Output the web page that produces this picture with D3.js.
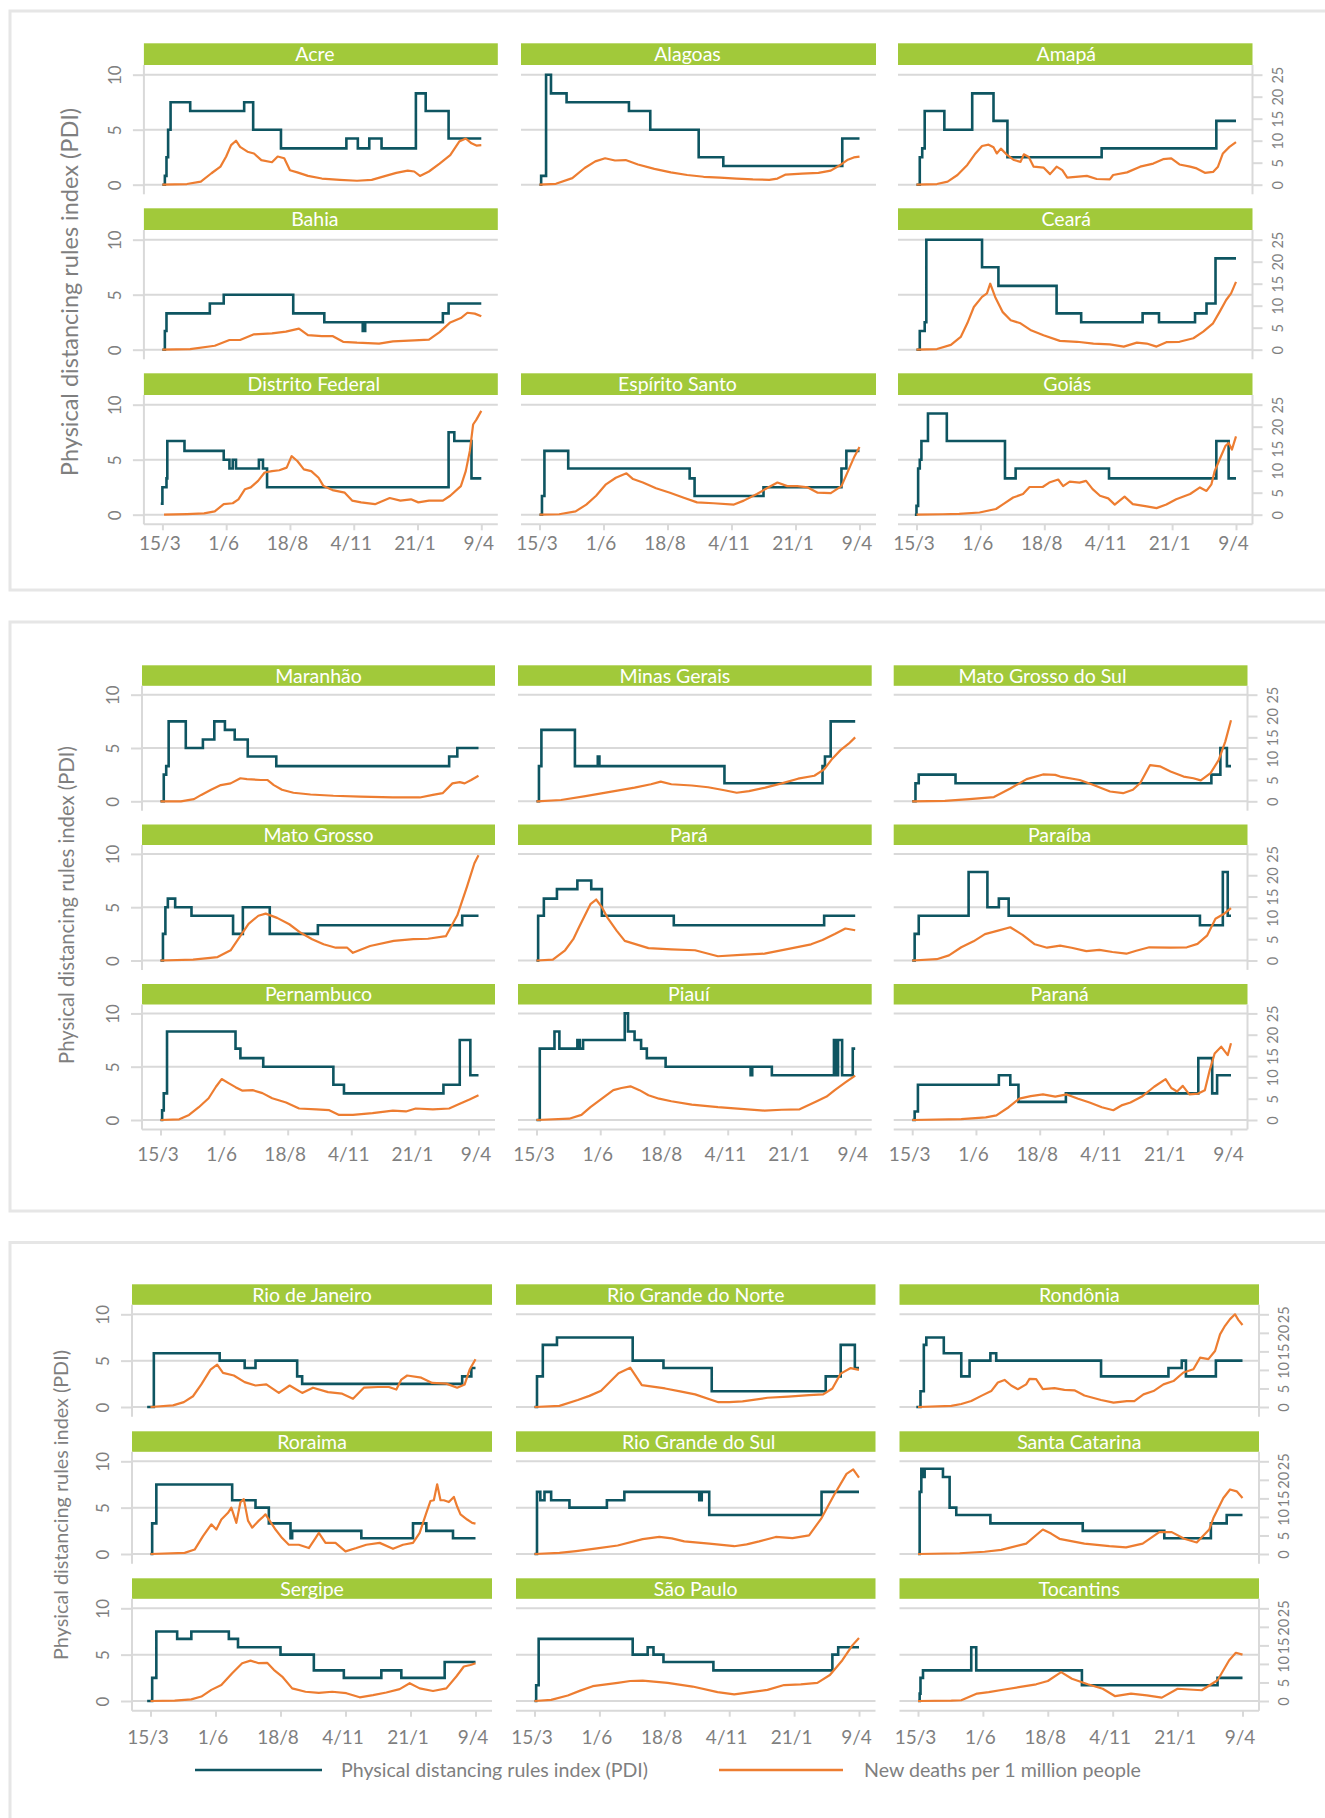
<!DOCTYPE html>
<html><head><meta charset="utf-8">
<script src="https://cdn.jsdelivr.net/npm/d3@7"></script>
<style>body{margin:0;background:#fff}svg{display:block}text{font-family:Lato,"Open Sans",sans-serif}</style>
</head><body>
<svg id="c" width="1325" height="1818"></svg>
<script>
// ---- data: day offsets from 15/3/2020; PDI (left axis 0-10), deaths per million (right axis 0-25)
const tickDays = [0, 78, 156, 234, 312, 390];
const tickLabels = ["15/3", "1/6", "18/8", "4/11", "21/1", "9/4"];
const leftTicks = [0, 5, 10];
const rightTicks = [0, 5, 10, 15, 20, 25];
const legendLabels = ["Physical distancing rules index (PDI)", "New deaths per 1 million people"];
const yTitle = "Physical distancing rules index (PDI)";

const panel1States = ["Acre", "Alagoas", "Amapá", "Bahia", null, "Ceará", "Distrito Federal", "Espírito Santo", "Goiás"];
const panel2States = ["Maranhão", "Minas Gerais", "Mato Grosso do Sul", "Mato Grosso", "Pará", "Paraíba", "Pernambuco", "Piauí", "Paraná"];
const panel3States = ["Rio de Janeiro", "Rio Grande do Norte", "Rondônia", "Roraima", "Rio Grande do Sul", "Santa Catarina", "Sergipe", "São Paulo", "Tocantins"];

const pdiAcre = [[0,0],[3,0.8],[5,2.5],[7,5],[10,7.5],[34,6.7],[100,7.5],[111,5],[145,3.3],[225,4.2],[239,3.3],[253,4.2],[268,3.3],[310,8.3],[322,6.7],[350,4.2],[390,4.2]];
const deathsAcre = [[0,0],[30,0.15],[47,0.7],[60,2.6],[71,4.1],[78,6.4],[84,9],[90,10],[95,8.6],[104,7.5],[112,7.1],[121,5.6],[134,5.1],[141,6.4],[149,6],[156,3.3],[165,2.8],[178,2],[195,1.4],[217,1.1],[238,0.9],[256,1.1],[273,2],[286,2.7],[300,3.2],[308,3],[315,2],[326,3],[339,4.8],[352,6.7],[363,9.8],[371,10.5],[378,9.4],[384,8.9],[390,9]];
const pdiAlagoas = [[0,0],[2,0.8],[8,10],[14,8.3],[33,7.5],[109,6.7],[135,5],[194,2.5],[224,1.7],[369,4.2],[390,4.2]];
const deathsAlagoas = [[0,0],[20,0.2],[40,1.5],[55,3.8],[68,5.3],[80,6],[92,5.5],[105,5.6],[120,4.6],[140,3.6],[160,2.8],[180,2.2],[200,1.8],[220,1.6],[240,1.4],[260,1.2],[280,1.1],[290,1.4],[300,2.3],[320,2.5],[340,2.7],[355,3.2],[365,4.3],[375,5.6],[383,6.2],[390,6.4]];
const pdiAmapa = [[0,0],[4,2.5],[7,3.3],[10,6.7],[34,5],[68,8.3],[94,5.8],[111,2.5],[226,3.3],[366,5.8],[390,5.8]];
const deathsAmapa = [[0,0],[25,0.15],[38,0.7],[50,2.2],[62,4.5],[72,7.1],[80,8.8],[88,9.1],[94,8.5],[98,7.1],[103,8.2],[111,6.7],[119,5.6],[127,5.2],[131,6.9],[137,6.3],[143,4.1],[155,3.9],[163,2.4],[171,4.1],[178,3.3],[184,1.6],[208,2],[220,1.3],[236,1.2],[240,2.2],[257,2.8],[273,4.1],[289,4.8],[301,5.8],[311,6],[321,4.6],[334,4.1],[342,3.7],[352,2.7],[362,2.9],[368,4.1],[374,7.1],[382,8.6],[390,9.7]];
const pdiBahia = [[0,0],[3,1.7],[5,3.3],[58,4.2],[75,5],[160,3.3],[198,2.5],[245,1.7],[248,2.5],[343,3.3],[350,4.2],[390,4.2]];
const deathsBahia = [[0,0],[34,0.15],[64,0.9],[82,2.2],[95,2.2],[112,3.5],[134,3.7],[151,4.1],[167,4.8],[178,3.3],[195,3.1],[208,3.1],[221,1.8],[238,1.6],[265,1.4],[282,1.9],[308,2.1],[326,2.3],[339,4],[352,6.2],[365,7.2],[373,8.4],[382,8.2],[390,7.6]];
const pdiCeara = [[0,0],[4,1.7],[10,2.5],[12,10],[80,7.5],[100,5.8],[171,3.3],[201,2.5],[276,3.3],[296,2.5],[340,3.3],[354,4.2],[365,8.3],[390,8.3]];
const deathsCeara = [[0,0],[25,0.15],[42,1.1],[54,2.9],[62,6],[70,9.7],[80,12],[86,12.8],[90,15],[96,12],[105,8.6],[115,6.7],[127,6],[139,4.5],[155,3.3],[175,2],[196,1.8],[216,1.4],[236,1.2],[253,0.7],[269,1.6],[281,1.4],[293,0.7],[305,1.7],[321,1.8],[338,2.6],[350,4.1],[362,6],[370,8.6],[378,11.3],[384,12.8],[390,15.4]];
const pdiDF = [[-2,1],[0,2.5],[5,3.3],[6,6.7],[27,5.8],[75,5],[82,4.2],[86,5],[90,4.2],[118,5],[123,4.2],[128,2.5],[350,7.5],[357,6.7],[378,3.3],[390,3.3]];
const deathsDF = [[2,0],[30,0.15],[51,0.3],[64,0.75],[75,2.4],[86,2.6],[93,3.5],[101,5.8],[108,6.2],[117,7.7],[125,9.6],[134,9.9],[143,10.1],[152,10.7],[158,13.3],[165,12.2],[173,10.3],[182,9.9],[191,8.4],[197,6.5],[208,5.6],[223,5],[232,3.2],[243,2.8],[260,2.4],[278,3.8],[291,3.2],[304,3.5],[313,2.8],[326,3.2],[343,3.2],[352,4.3],[365,6.5],[371,9.9],[376,14.5],[380,20.5],[384,21.6],[390,23.6]];
const pdiES = [[0,0],[3,1.7],[6,5.8],[35,4.2],[183,3.3],[189,1.7],[273,2.5],[368,4.2],[374,5.8],[390,5.8]];
const deathsES = [[0,0],[24,0.1],[44,0.75],[57,2.3],[69,4.3],[81,6.9],[93,8.4],[106,9.4],[114,8.1],[126,7.3],[142,6],[159,5],[175,3.9],[192,2.8],[212,2.6],[237,2.3],[249,3.2],[265,4.7],[277,6],[290,7.3],[302,6.5],[314,6.5],[327,6.2],[339,5],[355,4.9],[368,6.5],[376,9.9],[384,13.3],[390,15.4]];
const pdiGoias = [[-2,0],[0,0.8],[2,4.2],[4,5],[6,6.7],[14,9.2],[37,6.7],[108,3.3],[121,4.2],[235,3.3],[366,6.7],[381,3.3],[390,3.3]];
const deathsGoias = [[0,0],[32,0.1],[52,0.2],[77,0.5],[97,1.3],[105,2.3],[118,3.9],[130,4.7],[138,6.3],[154,6.3],[162,7.3],[173,8],[179,6.5],[187,7.5],[199,7.3],[207,7.7],[215,5.8],[224,4.3],[234,3.7],[242,2.3],[254,4.1],[264,2.4],[281,1.9],[293,1.5],[305,2.3],[317,3.5],[334,4.7],[346,6.2],[354,5.4],[360,6.9],[364,9.9],[371,13],[377,15.6],[381,16.3],[385,14.8],[390,17.8]];

const pdiMaranhao = [[0,0],[4,2.5],[7,3.3],[10,7.5],[31,5],[52,5.8],[66,7.5],[79,6.7],[91,5.8],[107,4.2],[142,3.3],[354,4.2],[364,5],[390,5]];
const deathsMaranhao = [[0,0],[25,0],[41,0.5],[50,1.5],[62,2.7],[74,3.8],[86,4.2],[98,5.4],[106,5.2],[123,5],[131,5],[139,3.8],[149,2.7],[163,2],[184,1.6],[212,1.3],[245,1.1],[285,0.9],[318,0.9],[334,1.5],[346,1.9],[358,4.2],[367,4.5],[373,4.2],[381,5],[390,6]];
const pdiMG = [[0,0],[3,3.3],[6,6.7],[47,3.3],[75,4.2],[77,3.3],[230,1.7],[350,3.3],[353,4.2],[360,7.5],[390,7.5]];
const deathsMG = [[0,0],[30,0.3],[60,1.2],[90,2.2],[120,3.2],[140,4],[152,4.6],[165,4],[190,3.7],[210,3.3],[230,2.6],[245,2],[260,2.4],[280,3.2],[300,4.2],[320,5.3],[340,6],[352,7.5],[362,10],[372,12],[382,13.5],[390,15]];
const pdiMGS = [[0,0],[4,1.7],[8,2.5],[53,1.7],[366,2.5],[377,5],[385,3.3],[390,3.3]];
const deathsMGS = [[0,0],[40,0.1],[70,0.5],[100,1],[120,3],[140,5.2],[160,6.3],[175,6.2],[181,5.8],[205,5],[221,3.9],[242,2.3],[258,1.9],[270,2.7],[279,4.3],[291,8.5],[303,8.2],[316,7],[332,5.8],[344,5.4],[353,4.9],[365,6.6],[375,9.7],[383,14],[390,19]];
const pdiMT = [[0,0],[3,2.5],[6,5],[9,5.8],[18,5],[38,4.2],[89,2.5],[101,5],[134,2.5],[193,3.3],[370,4.2],[390,4.2]];
const deathsMT = [[0,0],[40,0.2],[70,0.8],[86,2.4],[97,5.5],[108,8.6],[120,10.5],[129,11],[143,10],[158,8.5],[172,6.5],[186,5],[200,3.8],[215,3],[229,3],[236,1.8],[257,3.4],[286,4.6],[310,5],[328,5.1],[350,5.7],[364,10.6],[376,17.4],[385,22.8],[390,24.7]];
const pdiPara = [[0,0],[2,4.2],[9,5.8],[25,6.7],[50,7.5],[67,6.7],[80,4.2],[168,3.3],[352,4.2],[390,4.2]];
const deathsPara = [[0,0],[20,0.2],[35,2.4],[45,5],[52,7.8],[66,13.2],[73,14.3],[80,12.5],[87,10],[98,7],[108,4.6],[137,2.9],[165,2.6],[194,2.4],[222,1],[250,1.3],[279,1.6],[310,2.8],[336,3.8],[350,4.8],[365,6.2],[378,7.5],[390,7.1]];
const pdiParaiba = [[0,0],[3,2.5],[8,4.2],[69,8.3],[92,5],[106,5.8],[118,4.2],[352,3.3],[380,8.3],[386,4.2],[390,4.2]];
const deathsParaiba = [[0,0],[30,0.3],[45,1.2],[60,3.1],[75,4.5],[89,6.2],[105,7],[120,7.8],[135,6],[150,3.8],[165,3],[181,3.5],[195,3],[213,2.2],[229,2.5],[245,2],[262,1.6],[274,2.3],[290,3.1],[316,3],[336,3.1],[349,3.9],[361,5.9],[371,9.8],[381,10.9],[390,12.3]];
const pdiPE = [[0,0],[2,0.9],[4,2.5],[8,8.3],[92,6.7],[98,5.8],[126,5],[212,3.3],[225,2.5],[347,3.3],[367,7.5],[380,4.2],[390,4.2]];
const deathsPE = [[0,0],[23,0.15],[35,1.2],[47,3],[59,5.1],[68,7.8],[75,9.6],[84,8.6],[92,7.7],[100,6.9],[113,7],[125,6.3],[137,5.1],[154,4.1],[170,2.7],[191,2.5],[207,2.3],[219,1.2],[236,1.2],[260,1.6],[285,2.2],[301,2],[313,2.7],[334,2.5],[354,2.7],[367,3.8],[379,4.8],[390,5.8]];
const pdiPiaui = [[0,0],[4,6.7],[22,8.3],[28,6.7],[50,7.5],[53,6.7],[57,7.5],[108,10],[112,8.3],[120,7.5],[128,6.7],[135,5.8],[158,5],[262,4.2],[264,5],[288,4.2],[364,7.5],[366,4.2],[369,7.5],[374,4.2],[387,6.7],[390,6.7]];
const deathsPiaui = [[0,0],[40,0.3],[55,1.2],[66,3],[80,5],[94,7],[104,7.5],[115,7.9],[126,7],[137,5.8],[150,5],[165,4.4],[190,3.6],[222,3],[250,2.6],[279,2.2],[300,2.4],[322,2.5],[343,4.4],[355,5.5],[365,7],[378,8.8],[390,10.4]];
const pdiParana = [[0,0],[3,0.8],[7,3.3],[106,4.2],[120,3.3],[130,1.7],[188,2.5],[350,5.8],[367,2.5],[373,4.2],[390,4.2]];
const deathsParana = [[0,0],[60,0.2],[90,0.6],[103,1.1],[118,3],[131,5],[145,5.6],[160,6],[175,5.5],[189,6],[203,5],[217,4.1],[232,3],[246,2.3],[257,3.5],[267,4.1],[281,5.5],[296,7.8],[310,9.6],[317,7.5],[324,6.7],[331,8],[339,6],[350,6.2],[358,7],[364,11.7],[370,15.6],[378,17.2],[386,15.2],[390,18]];

const pdiRJ = [[-4,0],[0,0],[4,5.8],[83,5],[113,4.2],[126,5],[176,3.3],[182,2.5],[374,3.3],[385,4.2],[390,4.2]];
const deathsRJ = [[0,0],[27,0.45],[40,1.3],[51,2.9],[61,6.1],[72,10.1],[80,11.4],[87,9.2],[100,8.5],[113,6.7],[126,5.8],[139,6.1],[154,3.8],[167,5.8],[182,3.8],[195,5.2],[213,4],[230,3.6],[243,2.2],[256,5.2],[273,5.4],[286,5.4],[295,4.7],[301,7.4],[308,8.5],[325,7.9],[338,6.5],[355,6.3],[368,5.2],[377,6.1],[383,10.1],[390,12.9]];
const pdiRN = [[0,0],[3,3.3],[10,6.7],[27,7.5],[118,5],[155,4.2],[213,1.7],[350,3.3],[368,6.7],[385,4.2],[390,4.2]];
const deathsRN = [[0,0],[30,0.3],[52,1.9],[66,3],[80,4.4],[101,9.1],[115,10.6],[129,5.9],[157,5],[175,4.2],[193,3.4],[221,1.3],[234,1.3],[250,1.5],[263,1.9],[280,2.5],[305,2.8],[330,3.2],[347,3.4],[358,5],[368,9],[380,10.5],[390,10]];
const pdiRO = [[-2,0],[3,1.7],[7,6.7],[10,7.5],[31,5.8],[52,3.3],[62,5],[87,5.8],[94,5],[220,3.3],[301,4.2],[317,5],[322,3.3],[358,5],[390,5]];
const deathsRO = [[0,0],[40,0.3],[52,0.8],[64,1.6],[76,3],[88,4.3],[96,6.6],[104,7.3],[112,5.8],[120,4.8],[130,6.1],[134,7.6],[142,7.5],[150,4.8],[164,5.1],[176,4.6],[188,4.5],[200,3.1],[220,1.9],[235,1.2],[251,1.6],[260,1.6],[271,3.4],[283,4.3],[295,6.1],[307,7],[319,9.3],[331,10.2],[339,13.3],[349,12.9],[357,15.1],[363,19.6],[369,21.9],[375,23.7],[381,25],[385,23.5],[390,22.1]];
const pdiRR = [[0,0],[2,3.3],[7,7.5],[98,5.8],[126,5],[142,3.3],[168,1.7],[170,2.5],[253,1.7],[315,3.3],[331,2.5],[363,1.7],[390,1.7]];
const deathsRR = [[0,0],[41,0.3],[53,1.2],[63,4.8],[73,8],[79,6.6],[85,9.3],[93,11.1],[97,12.5],[103,8.4],[108,14],[112,14.8],[117,9],[122,7.1],[130,9],[134,9.8],[138,10.7],[150,6.6],[158,4.3],[166,2.5],[178,2.5],[190,1.6],[198,4.3],[202,5.7],[210,3],[222,3],[234,0.7],[247,1.6],[259,2.5],[275,3],[291,1.4],[303,2.5],[315,3],[323,5.7],[331,11.1],[336,14.3],[340,14.5],[344,18.8],[348,14.5],[352,14.5],[358,14],[364,15.4],[368,12.8],[372,10.7],[380,9.3],[386,8.4],[390,8.2]];
const pdiRS = [[0,0],[3,6.7],[7,5.8],[12,6.7],[20,5.8],[42,5],[87,5.8],[108,6.7],[198,5.8],[201,6.7],[210,4.2],[345,6.7],[390,6.7]];
const deathsRS = [[0,0],[30,0.3],[50,0.8],[75,1.5],[100,2.3],[130,4],[150,4.6],[165,4.2],[180,3.4],[210,2.8],[240,2.1],[255,2.6],[270,3.4],[290,4.6],[310,4.3],[330,5],[345,9.7],[360,15.9],[375,21.6],[383,22.8],[390,20.6]];
const pdiSC = [[0,0],[2,6.7],[4,9.2],[6,8.3],[8,9.2],[30,8.3],[38,5],[46,4.2],[87,3.3],[198,2.5],[296,1.7],[352,3.3],[371,4.2],[390,4.2]];
const deathsSC = [[0,0],[50,0.2],[80,0.6],[100,1.1],[130,2.8],[150,6.6],[160,5.5],[170,4.1],[200,2.8],[230,2.1],[250,1.8],[270,2.8],[290,5.9],[305,5.9],[320,4.1],[335,3.1],[350,6.6],[355,9.7],[367,15.1],[375,17.4],[383,16.9],[390,15.1]];
const pdiSE = [[-4,0],[2,2.5],[7,7.5],[32,6.7],[49,7.5],[94,6.7],[105,5.8],[156,5],[196,3.3],[232,2.5],[277,3.3],[301,2.5],[353,4.2],[390,4.2]];
const deathsSE = [[0,0],[29,0.1],[49,0.45],[61,1.2],[73,3],[85,4.3],[98,7.5],[110,10.2],[120,10.9],[130,10.2],[140,10.3],[148,8.4],[158,6.6],[170,3.4],[186,2.5],[202,2.2],[218,2.5],[235,2.1],[251,1],[267,1.6],[283,2.3],[299,3.2],[311,4.8],[323,3.4],[339,2.7],[355,3.4],[367,6.6],[376,9.3],[384,9.7],[390,10.2]];
const pdiSP = [[0,0],[2,1.7],[5,6.7],[118,5],[136,5.8],[143,5],[155,4.2],[215,3.3],[358,5],[365,5.8],[390,5.8]];
const deathsSP = [[0,0],[20,0.3],[40,1.5],[55,2.8],[70,4],[100,4.9],[115,5.4],[130,5.5],[160,4.9],[190,3.9],[220,2.4],[240,1.8],[260,2.4],[280,3],[300,4.3],[320,4.5],[340,4.9],[355,7],[370,11],[382,15],[390,17]];
const pdiTO = [[0,0],[2,0.8],[3,2.5],[6,3.3],[64,5.8],[70,3.3],[197,1.7],[360,2.5],[390,2.5]];
const deathsTO = [[0,0],[40,0.1],[52,0.2],[71,2],[85,2.4],[104,3.1],[123,3.8],[142,4.5],[156,5.4],[172,7.8],[185,6],[204,4.5],[222,3.3],[237,1.3],[256,2],[275,1.5],[293,0.9],[312,3.3],[326,3.1],[341,2.9],[360,5.6],[374,11],[382,13],[390,12.5]];

const series = {
  "Acre":[pdiAcre,deathsAcre],"Alagoas":[pdiAlagoas,deathsAlagoas],"Amapá":[pdiAmapa,deathsAmapa],
  "Bahia":[pdiBahia,deathsBahia],"Ceará":[pdiCeara,deathsCeara],"Distrito Federal":[pdiDF,deathsDF],
  "Espírito Santo":[pdiES,deathsES],"Goiás":[pdiGoias,deathsGoias],
  "Maranhão":[pdiMaranhao,deathsMaranhao],"Minas Gerais":[pdiMG,deathsMG],"Mato Grosso do Sul":[pdiMGS,deathsMGS],
  "Mato Grosso":[pdiMT,deathsMT],"Pará":[pdiPara,deathsPara],"Paraíba":[pdiParaiba,deathsParaiba],
  "Pernambuco":[pdiPE,deathsPE],"Piauí":[pdiPiaui,deathsPiaui],"Paraná":[pdiParana,deathsParana],
  "Rio de Janeiro":[pdiRJ,deathsRJ],"Rio Grande do Norte":[pdiRN,deathsRN],"Rondônia":[pdiRO,deathsRO],
  "Roraima":[pdiRR,deathsRR],"Rio Grande do Sul":[pdiRS,deathsRS],"Santa Catarina":[pdiSC,deathsSC],
  "Sergipe":[pdiSE,deathsSE],"São Paulo":[pdiSP,deathsSP],"Tocantins":[pdiTO,deathsTO]
};

// ---- layout (positions/styles)
const C = {green:"#a1c93a", teal:"#0e5561", orange:"#ed7d31", grid:"#d9d9d9", text:"#7f7f7f", box:"#e6e6e6"};
const headerShift = {"Acre":-6,"Alagoas":-11,"Amapá":-9,"Bahia":-6,"Ceará":-9,"Distrito Federal":-7,"Espírito Santo":-21,"Goiás":-8,
  "Minas Gerais":-20,"Mato Grosso do Sul":-28,"Pará":-6,"Paraíba":-11,"Piauí":-6,"Paraná":-11,"Rio Grande do Sul":3};
const panels = [
  {box:[11,590], tops:[43.3,208.3,373.3], hh:21.7, d10:31.4, d0:141.4, pad:9.6,
   cols:[[143.9,497.8],[521,876],[898,1252.5]], labDy:19, title:[70,292], tsize:23.5, states:panel1States},
  {box:[622,1211], tops:[665.3,824.5,984], hh:20.5, d10:29.4, d0:136, pad:9.4,
   cols:[[142,495],[518,871.7],[893.7,1247.5]], labDy:25, title:[67,905], tsize:20.3, states:panel2States},
  {box:[1242.5,1900], tops:[1284.3,1431.3,1578.3], hh:20.5, d10:30, d0:122.7, pad:9.7,
   cols:[[132,492],[516,875.5],[899.5,1259]], labDy:26, title:[61,1505], tsize:19.8, states:panel3States}
];

const svg = d3.select("#c");

panels.forEach(P => {
  svg.append("rect").attr("x",10).attr("y",P.box[0]).attr("width",1360).attr("height",P.box[1]-P.box[0])
    .attr("fill","none").attr("stroke",C.box).attr("stroke-width",3);
  svg.append("text").attr("transform",`translate(${P.title[0]},${P.title[1]}) rotate(-90)`)
    .attr("text-anchor","middle").attr("dy","0.35em").attr("fill",C.text)
    .style("font-size",P.tsize+"px").text(yTitle);

  P.states.forEach((name,i) => {
    if (!name) return;
    const row = Math.floor(i/3), col = i%3;
    const [L,R] = P.cols[col];
    const top = P.tops[row];
    const y0 = top + P.d0, y10 = top + P.d10, yb = y0 + P.pad;
    const x = d3.scaleLinear().domain([0,390]).range([L+18.5, R-16.5]);
    const yL = d3.scaleLinear().domain([0,10]).range([y0,y10]);
    const yR = d3.scaleLinear().domain([0,25]).range([y0,y10]);
    const g = svg.append("g");

    g.selectAll("line.grid").data(leftTicks).join("line").attr("class","grid")
      .attr("x1",L).attr("x2",R).attr("y1",d=>yL(d)).attr("y2",d=>yL(d))
      .attr("stroke",C.grid).attr("stroke-width",2);

    g.append("rect").attr("x",L).attr("y",top).attr("width",R-L).attr("height",P.hh).attr("fill",C.green);
    g.append("text").attr("x",(L+R)/2 + (headerShift[name]||0)).attr("y",top+P.hh/2).attr("dy","0.36em").attr("text-anchor","middle")
      .attr("fill","#fff").style("font-size","19.5px").text(name);

    if (col===0) {
      g.append("line").attr("x1",L).attr("x2",L).attr("y1",top+P.hh).attr("y2",yb).attr("stroke",C.grid).attr("stroke-width",2);
      const ax = g.append("g").attr("transform",`translate(${L},0)`)
        .call(d3.axisLeft(yL).tickValues(leftTicks).tickSize(11));
      ax.select(".domain").remove();
      ax.selectAll(".tick line").attr("stroke",C.grid).attr("stroke-width",2);
      ax.selectAll(".tick text").attr("x",null).attr("dy","0.35em").attr("transform","translate(-29,0) rotate(-90)")
        .attr("text-anchor","middle").attr("fill",C.text).style("font-size","17px").style("font-family","Lato");
    }
    if (col===2) {
      g.append("line").attr("x1",R).attr("x2",R).attr("y1",top+P.hh).attr("y2",yb).attr("stroke",C.grid).attr("stroke-width",2);
      const ax = g.append("g").attr("transform",`translate(${R},0)`)
        .call(d3.axisRight(yR).tickValues(rightTicks).tickSize(10));
      ax.select(".domain").remove();
      ax.selectAll(".tick line").attr("stroke",C.grid).attr("stroke-width",2);
      ax.selectAll(".tick text").attr("x",null).attr("dy","0.35em").attr("transform","translate(25,0) rotate(-90)")
        .attr("text-anchor","middle").attr("fill",C.text).style("font-size","14.5px").style("font-family","Lato");
    }
    if (row===2) {
      g.append("line").attr("x1",L).attr("x2",R).attr("y1",yb).attr("y2",yb).attr("stroke",C.grid).attr("stroke-width",2);
      const ax = g.append("g").attr("transform",`translate(0,${yb})`)
        .call(d3.axisBottom(x).tickValues(tickDays).tickFormat((d,k)=>tickLabels[k]).tickSize(6));
      ax.select(".domain").remove();
      ax.selectAll(".tick line").attr("stroke",C.grid).attr("stroke-width",2);
      ax.selectAll(".tick text").attr("x",-3).attr("y",P.labDy).attr("dy","0.36em")
        .attr("fill",C.text).style("font-size","19px").style("font-family","Lato");
    }

    const [pdi,deaths] = series[name];
    g.append("path").datum(pdi)
      .attr("d", d3.line().x(d=>x(d[0])).y(d=>yL(d[1])).curve(d3.curveStepAfter))
      .attr("fill","none").attr("stroke",C.teal).attr("stroke-width",2.6);
    g.append("path").datum(deaths)
      .attr("d", d3.line().x(d=>x(d[0])).y(d=>yR(d[1])))
      .attr("fill","none").attr("stroke",C.orange).attr("stroke-width",2.2).attr("stroke-linejoin","round");
  });
});

// legend
const leg = svg.append("g");
const legItems = [{c:C.teal, x1:195, x2:322, tx:341, t:legendLabels[0]},{c:C.orange, x1:719, x2:843, tx:864, t:legendLabels[1]}];
legItems.forEach(d => {
  leg.append("line").attr("x1",d.x1).attr("x2",d.x2).attr("y1",1770).attr("y2",1770).attr("stroke",d.c).attr("stroke-width",2.6);
  leg.append("text").attr("x",d.tx).attr("y",1770).attr("dy","0.36em").attr("fill",C.text).style("font-size","19.6px").text(d.t);
});
</script>
</body></html>
